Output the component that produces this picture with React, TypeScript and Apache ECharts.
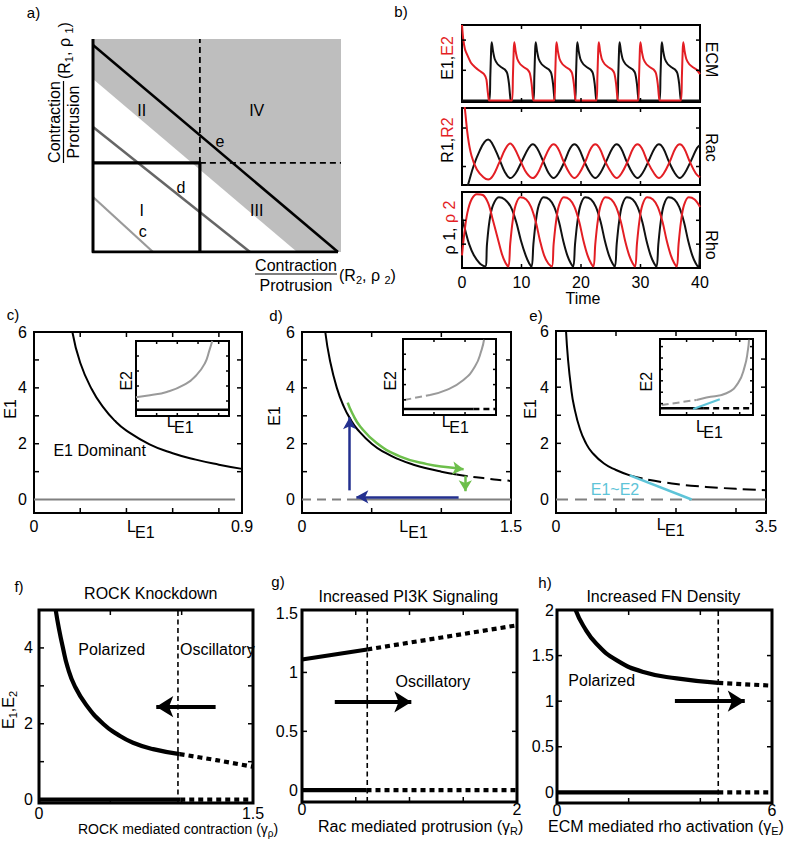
import React, { useEffect, useRef } from "react";
import * as echarts from "echarts";

type P = [number, number];
const FONT = '"Liberation Sans", Arial, Helvetica, sans-serif';
const RED = "#e31e24";
const BLUE = "#23308f";
const GREEN = "#6dbf4b";
const CYAN = "#5ec4d8";

// ---------------- panel a (schematic, unit square) ----------------
const aShadeLower: P[] = [[0, 0.812], [0.823, 0], [1, 0]];
const aBoundary: P[] = [[0, 0.972], [0.988, 0]];
const aLineD: P[] = [[0, 0.587], [0.633, 0]];
const aLineC: P[] = [[0, 0.258], [0.242, 0]];
const aAxesPath: P[] = [[0, 1], [0, 0], [0.988, 0]];
const aRegionBox: P[] = [[0, 0.418], [0.431, 0.418], [0.431, 0]];
const aDashV: P[] = [[0.431, 0.418], [0.431, 1]];
const aDashH: P[] = [[0.431, 0.418], [1, 0.418]];

// ---------------- panel b (time courses) ----------------
const bTimeLabels = [0, 10, 20, 30, 40];
const bTimeTicks = [10, 20, 30];
const bEcmTicks = [0.4, 0.8];
const bRacTicks = [0.24, 0.74];
const bRhoTicks = [0.3, 0.62];
const bEcmE1: P[] = [
  [0, 0], [4.6, 0], [4.75, 0.3], [4.9, 0.68], [5.0, 0.77], [5.2, 0.66], [5.5, 0.55], [6.0, 0.48], [6.6, 0.44], [7.2, 0.41], [7.6, 0.36], [7.9, 0.22], [8.1, 0.05], [8.25, 0],
  [12.0, 0], [12.15, 0.3], [12.3, 0.68], [12.4, 0.77], [12.6, 0.66], [12.9, 0.55], [13.4, 0.48], [14.0, 0.44], [14.6, 0.41], [15.0, 0.36], [15.3, 0.22], [15.5, 0.05], [15.65, 0],
  [19.0, 0], [19.15, 0.3], [19.3, 0.68], [19.4, 0.77], [19.6, 0.66], [19.9, 0.55], [20.4, 0.48], [21.0, 0.44], [21.6, 0.41], [22.0, 0.36], [22.3, 0.22], [22.5, 0.05], [22.65, 0],
  [26.1, 0], [26.25, 0.3], [26.4, 0.68], [26.5, 0.77], [26.7, 0.66], [27.0, 0.55], [27.5, 0.48], [28.1, 0.44], [28.7, 0.41], [29.1, 0.36], [29.4, 0.22], [29.6, 0.05], [29.75, 0],
  [33.2, 0], [33.35, 0.3], [33.5, 0.68], [33.6, 0.77], [33.8, 0.66], [34.1, 0.55], [34.6, 0.48], [35.2, 0.44], [35.8, 0.41], [36.2, 0.36], [36.5, 0.22], [36.7, 0.05], [36.85, 0], [40, 0],
];
const bEcmE2: P[] = [
  [0, 1.0], [0.2, 0.82], [0.5, 0.68], [0.9, 0.6], [1.5, 0.5], [2.2, 0.44], [3.0, 0.39], [3.7, 0.35], [4.1, 0.28], [4.35, 0.1], [4.5, 0.01], [4.6, 0],
  [8.4, 0], [8.55, 0.3], [8.7, 0.68], [8.8, 0.77], [9.0, 0.66], [9.3, 0.55], [9.8, 0.48], [10.4, 0.44], [11.0, 0.41], [11.4, 0.36], [11.7, 0.22], [11.9, 0.05], [12.05, 0],
  [15.5, 0], [15.65, 0.3], [15.8, 0.68], [15.9, 0.77], [16.1, 0.66], [16.4, 0.55], [16.9, 0.48], [17.5, 0.44], [18.1, 0.41], [18.5, 0.36], [18.8, 0.22], [19.0, 0.05], [19.15, 0],
  [22.6, 0], [22.75, 0.3], [22.9, 0.68], [23.0, 0.77], [23.2, 0.66], [23.5, 0.55], [24.0, 0.48], [24.6, 0.44], [25.2, 0.41], [25.6, 0.36], [25.9, 0.22], [26.1, 0.05], [26.25, 0],
  [29.6, 0], [29.75, 0.3], [29.9, 0.68], [30.0, 0.77], [30.2, 0.66], [30.5, 0.55], [31.0, 0.48], [31.6, 0.44], [32.2, 0.41], [32.6, 0.36], [32.9, 0.22], [33.1, 0.05], [33.25, 0],
  [36.8, 0], [36.95, 0.3], [37.1, 0.68], [37.2, 0.77], [37.4, 0.66], [37.7, 0.55], [38.2, 0.48], [38.8, 0.44], [39.4, 0.41], [40, 0.35],
];
const bRacR1: P[] = [
  [0, -0.25], [1.0, 0.0], [2.0, 0.26], [3.0, 0.45], [3.8, 0.56], [4.4, 0.59], [5.0, 0.55], [6.2, 0.35], [7.2, 0.17], [8.1, 0.09],
  [9.0, 0.15], [10.0, 0.3], [11.2, 0.48], [11.9, 0.53], [12.6, 0.48], [13.7, 0.3], [14.6, 0.15], [15.4, 0.09],
  [16.2, 0.15], [17.2, 0.3], [18.2, 0.48], [18.9, 0.53], [19.6, 0.48], [20.6, 0.3], [21.6, 0.15], [22.4, 0.09],
  [23.2, 0.15], [24.2, 0.3], [25.3, 0.48], [26.0, 0.53], [26.7, 0.48], [27.7, 0.3], [28.7, 0.15], [29.5, 0.09],
  [30.3, 0.15], [31.3, 0.3], [32.4, 0.48], [33.1, 0.53], [33.8, 0.48], [34.8, 0.3], [35.8, 0.15], [36.6, 0.09],
  [37.4, 0.15], [38.4, 0.3], [39.5, 0.48], [40, 0.52],
];
const bRacR2: P[] = [
  [0, 1.3], [0.5, 0.98], [1.0, 0.62], [1.6, 0.38], [2.5, 0.2], [3.6, 0.1], [4.4, 0.07], [5.2, 0.12], [6.2, 0.28], [7.3, 0.47], [8.1, 0.54],
  [8.8, 0.48], [9.9, 0.3], [10.9, 0.15], [11.9, 0.09], [12.7, 0.15], [13.6, 0.3], [14.7, 0.48], [15.4, 0.53],
  [16.1, 0.48], [17.1, 0.3], [18.1, 0.15], [18.9, 0.09], [19.7, 0.15], [20.7, 0.3], [21.7, 0.48], [22.4, 0.53],
  [23.1, 0.48], [24.1, 0.3], [25.2, 0.15], [26.0, 0.09], [26.8, 0.15], [27.8, 0.3], [28.8, 0.48], [29.5, 0.53],
  [30.2, 0.48], [31.2, 0.3], [32.3, 0.15], [33.1, 0.09], [33.9, 0.15], [34.9, 0.3], [35.9, 0.48], [36.6, 0.53],
  [37.3, 0.48], [38.3, 0.3], [39.3, 0.15], [40, 0.1],
];
const bRho1: P[] = [
  [0, 0.65], [0.5, 0.5], [1.2, 0.3], [2.0, 0.15], [3.0, 0.04], [3.9, 0],
  [4.2, 0.3], [4.6, 0.6], [5.2, 0.82], [6.2, 0.93], [7.2, 0.9], [8.2, 0.8], [9.1, 0.6], [9.9, 0.35], [10.7, 0.15], [11.3, 0.04], [11.7, 0],
  [12.0, 0.3], [12.4, 0.6], [12.9, 0.82], [13.7, 0.93], [14.7, 0.9], [15.5, 0.8], [16.3, 0.6], [17.0, 0.35], [17.7, 0.15], [18.3, 0.04], [18.7, 0],
  [19.0, 0.3], [19.4, 0.6], [19.9, 0.82], [20.7, 0.93], [21.7, 0.9], [22.5, 0.8], [23.3, 0.6], [24.0, 0.35], [24.7, 0.15], [25.3, 0.04], [25.7, 0],
  [26.0, 0.3], [26.4, 0.6], [26.9, 0.82], [27.7, 0.93], [28.7, 0.9], [29.5, 0.8], [30.3, 0.6], [31.0, 0.35], [31.7, 0.15], [32.3, 0.04], [32.7, 0],
  [33.0, 0.3], [33.4, 0.6], [33.9, 0.82], [34.7, 0.93], [35.7, 0.9], [36.5, 0.8], [37.3, 0.6], [38.0, 0.35], [38.7, 0.15], [39.3, 0.04], [39.7, 0], [40, 0.25],
];
const bRho2: P[] = [
  [0, 0.15], [0.4, 0.45], [0.9, 0.72], [1.6, 0.9], [2.5, 0.97], [3.5, 0.96], [4.4, 0.85], [5.2, 0.62], [6.0, 0.38], [6.7, 0.17], [7.3, 0.05], [7.8, 0],
  [8.1, 0.3], [8.5, 0.6], [9.0, 0.82], [9.8, 0.93], [10.8, 0.9], [11.6, 0.8], [12.4, 0.6], [13.1, 0.35], [13.8, 0.15], [14.5, 0.04], [15.1, 0],
  [15.4, 0.3], [15.8, 0.6], [16.3, 0.82], [17.1, 0.93], [18.1, 0.9], [18.9, 0.8], [19.7, 0.6], [20.4, 0.35], [21.1, 0.15], [21.7, 0.04], [22.1, 0],
  [22.4, 0.3], [22.8, 0.6], [23.3, 0.82], [24.1, 0.93], [25.1, 0.9], [25.9, 0.8], [26.7, 0.6], [27.4, 0.35], [28.1, 0.15], [28.7, 0.04], [29.1, 0],
  [29.4, 0.3], [29.8, 0.6], [30.3, 0.82], [31.1, 0.93], [32.1, 0.9], [32.9, 0.8], [33.7, 0.6], [34.4, 0.35], [35.1, 0.15], [35.7, 0.04], [36.1, 0],
  [36.4, 0.3], [36.8, 0.6], [37.3, 0.82], [38.1, 0.93], [39.1, 0.9], [40, 0.8],
];

// ---------------- panels c, d, e ----------------
const cdeYLabels = [0, 2, 4, 6];
const cdeYTicks = [1, 2, 3, 4, 5];
const cXLabels = [0, 0.9];
const cXTicks = [0.2, 0.4, 0.6, 0.8];
const dXLabels = [0, 1.5];
const dXTicks = [0.5, 1.0];
const eXLabels = [0, 3.5];
const eXTicks = [1, 2, 3];
const insetYTicks = [0.2, 0.4, 0.6, 0.8];
const cInsetXTicks = [0.222, 0.444, 0.667, 0.889];
const dInsetXTicks = [0.333, 0.667];
const eInsetXTicks = [0.286, 0.571, 0.857];
const eInsetYTicks = [0.15, 0.3, 0.45, 0.6, 0.75, 0.9];

const cE1: P[] = [[0.166, 6], [0.2, 4.9], [0.25, 3.95], [0.3, 3.3], [0.35, 2.82], [0.4, 2.47], [0.5, 1.98], [0.6, 1.66], [0.7, 1.43], [0.8, 1.25], [0.9, 1.1]];
const cZero: P[] = [[0, 0], [0.87, 0]];
const cInsetE2: P[] = [[0, 0.25], [0.15, 0.277], [0.33, 0.321], [0.51, 0.411], [0.65, 0.545], [0.74, 0.701], [0.79, 0.879], [0.82, 1.0]];
const cInsetE1: P[] = [[0, 0.085], [1, 0.085]];

const dE1Solid: P[] = [[0.167, 6], [0.2, 5.0], [0.25, 4.0], [0.3, 3.33], [0.35, 2.86], [0.4, 2.5], [0.5, 2.0], [0.6, 1.67], [0.7, 1.43], [0.8, 1.25], [0.9, 1.11], [1.0, 1.0], [1.11, 0.9]];
const dE1Dashed: P[] = [[1.11, 0.9], [1.2, 0.83], [1.3, 0.77], [1.4, 0.71], [1.5, 0.67]];
const dZeroDashed: P[] = [[0, 0], [0.33, 0]];
const dZeroSolid: P[] = [[0.33, 0], [1.5, 0]];
const dGreen: P[] = [[0.328, 3.47], [0.36, 3.1], [0.419, 2.61], [0.538, 2.02], [0.706, 1.54], [0.897, 1.27], [1.065, 1.15], [1.13, 1.11]];
const dGreenArrows: [P, P][] = [[[1.1, 1.12], [1.16, 1.085]], [[1.172, 0.855], [1.172, 0.3]]];
const dBlueArrows: [P, P][] = [[[1.124, 0.1], [0.39, 0.1]], [[0.342, 0.33], [0.342, 2.95]]];
const dInsetE2Dashed: P[] = [[0.014, 0.198], [0.29, 0.264]];
const dInsetE2Solid: P[] = [[0.29, 0.264], [0.47, 0.33], [0.65, 0.46], [0.775, 0.64], [0.846, 0.86], [0.871, 0.99]];
const dInsetE1Solid: P[] = [[0, 0.079], [0.757, 0.079]];
const dInsetE1Dashed: P[] = [[0.757, 0.079], [1, 0.079]];

const eE1Solid: P[] = [[0.167, 6], [0.2, 5.0], [0.25, 4.0], [0.3, 3.33], [0.4, 2.5], [0.5, 2.0], [0.6, 1.68], [0.8, 1.28], [1.0, 1.05], [1.23, 0.86]];
const eE1Dashed: P[] = [[1.23, 0.86], [1.5, 0.72], [2.0, 0.55], [2.5, 0.45], [3.0, 0.38], [3.5, 0.33]];
const eCyan: P[] = [[1.23, 0.86], [2.26, 0]];
const eZeroDashed: P[] = [[0, 0], [2.26, 0]];
const eZeroSolid: P[] = [[2.26, 0], [3.5, 0]];
const eInsetE2Dashed: P[] = [[0.018, 0.132], [0.393, 0.198]];
const eInsetE2Solid: P[] = [[0.393, 0.198], [0.5, 0.229], [0.714, 0.286], [0.839, 0.42], [0.911, 0.64], [0.946, 0.86], [0.957, 0.99]];
const eInsetCyan: P[] = [[0.357, 0.079], [0.643, 0.207]];
const eInsetE1Solid: P[] = [[0, 0.088], [0.464, 0.088]];
const eInsetE1Dashed: P[] = [[0.464, 0.088], [1, 0.088]];

// ---------------- panels f, g, h ----------------
const fYLabels = [0, 2, 4];
const fYTicks = [1, 2, 3, 4];
const fXLabels = [0, 1.5];
const fXTicks = [0.5, 1.0];
const fUpperStable: P[] = [[0.117, 5.0], [0.14, 4.5], [0.168, 4.0], [0.2, 3.5], [0.25, 3.0], [0.33, 2.5], [0.449, 2.0], [0.55, 1.72], [0.659, 1.5], [0.8, 1.33], [0.986, 1.2]];
const fUpperUnstable: P[] = [[0.986, 1.2], [1.243, 1.04], [1.5, 0.865]];
const fLowerStable: P[] = [[0, 0], [0.99, 0]];
const fLowerUnstable: P[] = [[0.99, 0], [1.5, 0]];
const fBifurcation: P[] = [[0.974, -0.09], [0.974, 5]];
const fArrow: [P, P][] = [[[1.238, 2.45], [0.822, 2.45]]];

const gYLabels = [0, 0.5, 1, 1.5];
const gYTicks = [0.5, 1.0];
const gXLabels = [0, 2];
const gXTicks = [0.5, 1.0, 1.5];
const gUpperStable: P[] = [[0, 1.11], [0.607, 1.195]];
const gUpperUnstable: P[] = [[0.607, 1.195], [2, 1.4]];
const gLowerStable: P[] = [[0, 0], [0.6, 0]];
const gLowerUnstable: P[] = [[0.6, 0], [2, 0]];
const gBifurcation: P[] = [[0.607, -0.1], [0.607, 1.53]];
const gArrow: [P, P][] = [[[0.305, 0.75], [1.017, 0.75]]];

const hYLabels = [0, 0.5, 1, 1.5, 2];
const hYTicks = [0.5, 1.0, 1.5];
const hXLabels = [0, 6];
const hXTicks = [2, 4];
const hUpperStable: P[] = [[0.52, 2.0], [0.73, 1.83], [1.1, 1.63], [1.66, 1.45], [2.41, 1.32], [3.34, 1.25], [4.5, 1.2]];
const hUpperUnstable: P[] = [[4.5, 1.2], [6, 1.17]];
const hLowerStable: P[] = [[0, 0], [4.5, 0]];
const hLowerUnstable: P[] = [[4.5, 0], [6, 0]];
const hBifurcation: P[] = [[4.5, -0.117], [4.5, 2]];
const hArrow: [P, P][] = [[[3.29, 1.0], [5.24, 1.0]]];

// ---------------- option builder ----------------
type AxSpec = { min: number; max: number; ticks?: number[]; labels?: number[]; margin?: number; lh?: number };
type Ax = { xi: number; yi: number; x: AxSpec; y: AxSpec; rect: number[] };

function buildOption() {
  const grids: any[] = [];
  const xAxes: any[] = [];
  const yAxes: any[] = [];
  const series: any[] = [];

  function axis(gi: number, position: string, s: AxSpec, hidden: boolean) {
    return {
      type: "value",
      gridIndex: gi,
      position,
      min: s.min,
      max: s.max,
      show: !hidden,
      axisLine: { show: false },
      splitLine: { show: false },
      axisPointer: { show: false },
      axisTick: { show: false },
      axisLabel: s.labels
        ? { show: true, customValues: s.labels, color: "#000", fontSize: 16, fontFamily: FONT, margin: s.margin ?? 6, lineHeight: s.lh }
        : { show: false },
    };
  }

  function line(ax: Ax, data: P[], color: string, width: number, opts: any = {}) {
    series.push({
      type: "line",
      xAxisIndex: ax.xi,
      yAxisIndex: ax.yi,
      data,
      symbol: "none",
      showSymbol: false,
      silent: true,
      smooth: opts.smooth ?? false,
      clip: opts.clip ?? true,
      z: opts.z ?? 3,
      lineStyle: { color, width, type: opts.dash ?? "solid", cap: "butt", join: "round" },
      areaStyle: opts.area,
    });
  }

  // inward tick marks on all four sides: one short line series per tick, in the panel's data space
  function tickMarks(ax: Ax, len: number) {
    const { x, y, rect } = ax;
    const lx = (len / rect[2]) * (x.max - x.min);
    const ly = (len / rect[3]) * (y.max - y.min);
    for (const v of x.ticks || []) {
      line(ax, [[v, y.min], [v, y.min + ly]], "#000", 1.5, { z: 6, clip: false });
      line(ax, [[v, y.max], [v, y.max - ly]], "#000", 1.5, { z: 6, clip: false });
    }
    for (const v of y.ticks || []) {
      line(ax, [[x.min, v], [x.min + lx, v]], "#000", 1.5, { z: 6, clip: false });
      line(ax, [[x.max, v], [x.max - lx, v]], "#000", 1.5, { z: 6, clip: false });
    }
  }

  function panel(rect: number[], border: number, x: AxSpec, y: AxSpec, hidden = false, tickLen = 4, bg = "transparent"): Ax {
    const gi = grids.length;
    grids.push({
      left: rect[0], top: rect[1], width: rect[2], height: rect[3],
      show: border > 0, borderColor: "#000", borderWidth: border, backgroundColor: bg,
    });
    const xi = xAxes.length;
    xAxes.push(axis(gi, "bottom", x, hidden));
    const yi = yAxes.length;
    yAxes.push(axis(gi, "left", y, hidden));
    const ax = { xi, yi, x, y, rect };
    if (!hidden) tickMarks(ax, tickLen);
    return ax;
  }

  function arrows(ax: Ax, segs: [P, P][], color: string, width: number, size: number[]) {
    series.push({
      type: "line",
      xAxisIndex: ax.xi,
      yAxisIndex: ax.yi,
      data: [],
      symbol: "none",
      silent: true,
      z: 5,
      markLine: {
        silent: true,
        symbol: ["none", "arrow"],
        symbolSize: size,
        label: { show: false },
        emphasis: { disabled: true },
        lineStyle: { color, width, type: "solid", opacity: 1 },
        data: segs.map(([a, b]) => [{ coord: a }, { coord: b }]),
      },
    });
  }

  // ----- a -----
  const a = panel([93, 39, 248, 213], 0, { min: 0, max: 1 }, { min: 0, max: 1 }, true);
  line(a, aShadeLower, "#bebebe", 0, { area: { color: "#bebebe", opacity: 1, origin: "end" }, z: 1 });
  line(a, aLineC, "#9a9a9a", 2.2);
  line(a, aLineD, "#666666", 2.5);
  line(a, aBoundary, "#000", 2.5);
  line(a, aDashV, "#000", 1.8, { dash: [6, 4] });
  line(a, aDashH, "#000", 1.8, { dash: [6, 4] });
  line(a, aRegionBox, "#000", 3.2);
  line(a, aAxesPath, "#000", 3);

  // ----- b -----
  const bx1: AxSpec = { min: 0, max: 40, ticks: bTimeTicks };
  const bx3: AxSpec = { min: 0, max: 40, ticks: bTimeTicks, labels: bTimeLabels, margin: 6 };
  const b1 = panel([462, 25, 238, 77], 2, bx1, { min: -0.02, max: 1, ticks: bEcmTicks });
  const b2 = panel([462, 108, 238, 77], 2, bx1, { min: 0, max: 1, ticks: bRacTicks });
  const b3 = panel([462, 192, 238, 76], 2, bx3, { min: -0.02, max: 1, ticks: bRhoTicks });
  line(b1, bEcmE1, "#111", 2, { smooth: 0.2 });
  line(b1, bEcmE2, RED, 2, { smooth: 0.2 });
  line(b2, bRacR1, "#111", 2, { smooth: 0.4 });
  line(b2, bRacR2, RED, 2, { smooth: 0.4 });
  line(b3, bRho1, "#111", 2, { smooth: 0.35 });
  line(b3, bRho2, RED, 2, { smooth: 0.35 });

  // ----- c -----
  const cy: AxSpec = { min: -0.48, max: 6, ticks: cdeYTicks, labels: cdeYLabels, margin: 7 };
  const c = panel([34, 332, 208, 181], 2, { min: 0, max: 0.9, ticks: cXTicks, labels: cXLabels, margin: 5 }, cy, false, 5);
  line(c, cZero, "#808080", 2);
  line(c, cE1, "#000", 2, { smooth: 0.5 });
  const cIn = panel([136, 341, 93, 75], 2, { min: 0, max: 1, ticks: cInsetXTicks }, { min: 0, max: 1, ticks: insetYTicks }, false, 3, "#fff");
  line(cIn, cInsetE2, "#9a9a9a", 2, { smooth: 0.5 });
  line(cIn, cInsetE1, "#000", 2.5);

  // ----- d -----
  const d = panel([302, 332, 209, 181], 2, { min: 0, max: 1.5, ticks: dXTicks, labels: dXLabels, margin: 5 }, cy, false, 5);
  line(d, dZeroDashed, "#808080", 2, { dash: [9, 6] });
  line(d, dZeroSolid, "#808080", 2);
  line(d, dE1Solid, "#000", 2, { smooth: 0.5 });
  line(d, dE1Dashed, "#000", 2, { dash: [11, 6], smooth: 0.3 });
  line(d, dGreen, GREEN, 2.5, { smooth: 0.5, z: 4 });
  arrows(d, dGreenArrows, GREEN, 2.5, [10, 11]);
  arrows(d, dBlueArrows, BLUE, 2.5, [10, 12]);
  const dIn = panel([403, 339, 93, 76], 2, { min: 0, max: 1, ticks: dInsetXTicks }, { min: 0, max: 1, ticks: insetYTicks }, false, 3, "#fff");
  line(dIn, dInsetE2Dashed, "#9a9a9a", 2, { dash: [7, 4] });
  line(dIn, dInsetE2Solid, "#9a9a9a", 2, { smooth: 0.5 });
  line(dIn, dInsetE1Solid, "#000", 2.5);
  line(dIn, dInsetE1Dashed, "#000", 2.5, { dash: [6, 4] });

  // ----- e -----
  const e = panel([556, 331, 210, 182], 2, { min: 0, max: 3.5, ticks: eXTicks, labels: eXLabels, margin: 5 }, cy, false, 5);
  line(e, eZeroDashed, "#808080", 2, { dash: [12, 7] });
  line(e, eZeroSolid, "#808080", 2);
  line(e, eE1Solid, "#000", 2, { smooth: 0.5 });
  line(e, eE1Dashed, "#000", 2, { dash: [13, 6], smooth: 0.3 });
  line(e, eCyan, CYAN, 2.5, { z: 4 });
  const eIn = panel([660, 339, 93, 76], 2, { min: 0, max: 1, ticks: eInsetXTicks }, { min: 0, max: 1, ticks: eInsetYTicks }, false, 3, "#fff");
  line(eIn, eInsetE2Dashed, "#9a9a9a", 2, { dash: [7, 4] });
  line(eIn, eInsetE2Solid, "#9a9a9a", 2, { smooth: 0.5 });
  line(eIn, eInsetE1Solid, "#000", 2.5);
  line(eIn, eInsetE1Dashed, "#000", 2.5, { dash: [6, 4] });
  line(eIn, eInsetCyan, CYAN, 2.2, { z: 4 });

  // ----- f -----
  const f = panel([39, 610, 214, 193], 3, { min: 0, max: 1.5, ticks: fXTicks, labels: fXLabels, margin: 4, lh: 12 }, { min: -0.09, max: 5, ticks: fYTicks, labels: fYLabels, margin: 6 }, false, 5);
  line(f, fBifurcation, "#000", 1.6, { dash: [5, 3.5] });
  line(f, fUpperStable, "#000", 4.2, { smooth: 0.5 });
  line(f, fUpperUnstable, "#000", 4.2, { dash: [5, 4], smooth: 0.3 });
  line(f, fLowerStable, "#000", 4.2);
  line(f, fLowerUnstable, "#000", 4.2, { dash: [5, 4] });
  arrows(f, fArrow, "#000", 4, [16, 17]);

  // ----- g -----
  const g = panel([302, 610, 215, 192], 3, { min: 0, max: 2, ticks: gXTicks, labels: gXLabels, margin: 0, lh: 14 }, { min: -0.1, max: 1.53, ticks: gYTicks, labels: gYLabels, margin: 4 }, false, 5);
  line(g, gBifurcation, "#000", 1.6, { dash: [5, 3.5] });
  line(g, gUpperStable, "#000", 4.2);
  line(g, gUpperUnstable, "#000", 4.2, { dash: [5, 4] });
  line(g, gLowerStable, "#000", 4.2);
  line(g, gLowerUnstable, "#000", 4.2, { dash: [5, 4] });
  arrows(g, gArrow, "#000", 4, [16, 17]);

  // ----- h -----
  const h = panel([557, 610, 215, 193], 3, { min: 0, max: 6, ticks: hXTicks, labels: hXLabels, margin: 0, lh: 14 }, { min: -0.117, max: 2, ticks: hYTicks, labels: hYLabels, margin: 3 }, false, 5);
  line(h, hBifurcation, "#000", 1.6, { dash: [5, 3.5] });
  line(h, hUpperStable, "#000", 4.2, { smooth: 0.5 });
  line(h, hUpperUnstable, "#000", 4.2, { dash: [5, 4] });
  line(h, hLowerStable, "#000", 4.2);
  line(h, hLowerUnstable, "#000", 4.2, { dash: [5, 4] });
  arrows(h, hArrow, "#000", 4, [16, 17]);

  // ----- free texts -----
  const font = (s: number) => `${s}px ${FONT}`;
  const T = (x: number, y: number, text: string, o: any = {}) => ({
    type: "text",
    x,
    y,
    rotation: o.rot ?? 0,
    z: 100,
    silent: true,
    style: {
      text,
      fill: o.color ?? "#000",
      font: font(o.size ?? 16),
      align: o.align ?? "center",
      verticalAlign: o.va ?? "middle",
      rich: o.rich,
    },
  });
  const subRich = (size = 16) => ({
    m: { fill: "#000", font: font(size), fontSize: size, fontFamily: FONT, lineHeight: size + 4, verticalAlign: "middle" },
    s: { fill: "#000", font: font(Math.round(size * 0.7)), fontSize: Math.round(size * 0.7), fontFamily: FONT, lineHeight: size + 4, verticalAlign: "bottom" },
  });
  const colorRich = {
    k: { fill: "#000", fontSize: 16, fontFamily: FONT },
    r: { fill: RED, fontSize: 16, fontFamily: FONT },
  };
  const R90 = Math.PI / 2;

  const graphic: any[] = [
    // panel letters
    T(33.5, 12.7, "a)", { size: 15 }),
    T(401, 11, "b)", { size: 15 }),
    T(13, 314, "c)", { size: 15 }),
    T(276, 315, "d)", { size: 15 }),
    T(536, 315, "e)", { size: 15 }),
    T(19, 586, "f)", { size: 15 }),
    T(278, 581, "g)", { size: 15 }),
    T(545, 582, "h)", { size: 15 }),
    // a region labels
    T(141.7, 110, "II"),
    T(256.7, 110, "IV"),
    T(220, 141.7, "e"),
    T(181, 187.3, "d"),
    T(141.7, 210, "I"),
    T(256.7, 210, "III"),
    T(142.7, 231.7, "c"),
    // a x-label (fraction)
    T(296, 265, "Contraction"),
    { type: "line", z: 100, silent: true, shape: { x1: 255, y1: 274, x2: 337, y2: 274 }, style: { stroke: "#000", lineWidth: 1.2 } },
    T(296, 285.5, "Protrusion"),
    T(339, 275, "{m|(R}{s|2}{m|, ρ }{s|2}{m|)}", { align: "left", rich: subRich() }),
    // a y-label (rotated fraction)
    {
      type: "group",
      x: 63.5,
      y: 122,
      rotation: R90,
      silent: true,
      z: 100,
      children: [
        T(0, -9.5, "Contraction"),
        { type: "line", shape: { x1: -41, y1: 0, x2: 41, y2: 0 }, style: { stroke: "#000", lineWidth: 1.2 } },
        T(0, 10, "Protrusion"),
        T(43, 1, "{m|(R}{s|1}{m|, ρ }{s|1}{m|)}", { align: "left", rich: subRich() }),
      ],
    },
    // b labels
    T(447, 58, "{k|E1,}{r|E2}", { rot: R90, rich: colorRich }),
    T(447.5, 140, "{k|R1,}{r|R2}", { rot: R90, rich: colorRich }),
    T(449, 227.5, "{k|ρ 1, }{r|ρ 2}", { rot: R90, rich: colorRich }),
    T(711, 59.5, "ECM", { rot: -R90 }),
    T(711, 147.5, "Rac", { rot: -R90 }),
    T(711, 245, "Rho", { rot: -R90 }),
    T(583, 298, "Time"),
    // c labels
    T(10, 409, "E1", { rot: R90 }),
    T(127, 526, "L", { align: "left" }),
    T(135, 532, "E1", { align: "left" }),
    T(126.7, 380.8, "E2", { rot: R90 }),
    T(166.7, 421, "L", { align: "left" }),
    T(174, 427.5, "E1", { align: "left" }),
    T(99.7, 450, "E1 Dominant"),
    // d labels
    T(274.3, 416, "E1", { rot: R90 }),
    T(399.3, 526, "L", { align: "left" }),
    T(408.3, 532, "E1", { align: "left" }),
    T(390.5, 380.8, "E2", { rot: R90 }),
    T(441.7, 421.7, "L", { align: "left" }),
    T(449.3, 427, "E1", { align: "left" }),
    // e labels
    T(530, 409, "E1", { rot: R90 }),
    T(656.7, 524, "L", { align: "left" }),
    T(665, 530, "E1", { align: "left" }),
    T(646.7, 381.7, "E2", { rot: R90 }),
    T(696, 426.7, "L", { align: "left" }),
    T(703.3, 432, "E1", { align: "left" }),
    T(615, 489, "E1~E2", { color: CYAN }),
    // f labels
    T(150.8, 593.3, "ROCK Knockdown"),
    T(111.7, 649, "Polarized"),
    T(180, 649, "Oscillatory", { align: "left" }),
    T(8, 710, "{m|E}{s|1}{m|,E}{s|2}", { rot: R90, rich: subRich() }),
    T(78, 829, "{m|ROCK mediated contraction (γ}{s|ρ}{m|)}", { align: "left", rich: subRich(14) }),
    // g labels
    T(408.3, 596, "Increased PI3K Signaling"),
    T(432.8, 681.7, "Oscillatory"),
    T(318, 826, "{m|Rac mediated protrusion (γ}{s|R}{m|)}", { align: "left", rich: subRich() }),
    // h labels
    T(663.3, 596, "Increased FN Density"),
    T(601.7, 680.7, "Polarized"),
    T(548, 826, "{m|ECM mediated rho activation (γ}{s|E}{m|)}", { align: "left", rich: subRich() }),
  ];

  return {
    animation: false,
    backgroundColor: "#fff",
    textStyle: { fontFamily: FONT },
    grid: grids,
    xAxis: xAxes,
    yAxis: yAxes,
    series,
    graphic,
  };
}

export default function App() {
  const ref = useRef<HTMLDivElement>(null);
  useEffect(() => {
    if (!ref.current) return;
    const chart = echarts.init(ref.current, null, { renderer: "svg" });
    chart.setOption(buildOption() as any);
    return () => chart.dispose();
  }, []);
  return (
    <div
      ref={ref}
      style={{ position: "absolute", left: 0, top: 0, width: 786, height: 844, background: "#fff" }}
    />
  );
}
